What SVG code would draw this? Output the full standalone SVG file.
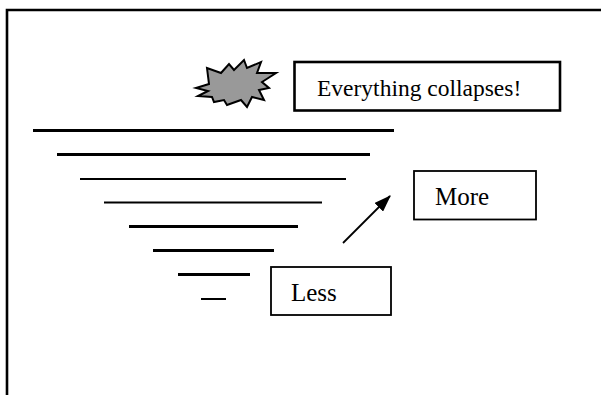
<svg xmlns="http://www.w3.org/2000/svg" width="601" height="395" viewBox="0 0 601 395">
<style>
.box{fill:#fff;stroke:#000;stroke-width:1.8}
.thick{stroke-width:2.6}
.lbl{font-family:"Liberation Serif","Times New Roman",serif;font-size:23.5px;fill:#000}
.big{font-size:25px}
.bar{stroke:#000;stroke-width:3}
.thin{stroke-width:2}
</style>
<defs>
<marker id="ah" viewBox="0 0 14 10" refX="13" refY="5" markerWidth="9.5" markerHeight="6.8" markerUnits="strokeWidth" orient="auto" preserveAspectRatio="none">
<path d="M0,0 L14,5 L0,10 Z" fill="#000"/>
</marker>
</defs>
<rect width="601" height="395" fill="#fff"/>
<g id="frame">
<path d="M7,395 V10 H601" fill="none" stroke="#000" stroke-width="2.6"/>
</g>
<g id="bars">
<line class="bar" x1="33" y1="130.5" x2="394" y2="130.5"/>
<line class="bar" x1="57" y1="154.5" x2="370" y2="154.5"/>
<line class="bar thin" x1="80" y1="179" x2="346" y2="179"/>
<line class="bar thin" x1="104" y1="202.5" x2="322" y2="202.5"/>
<line class="bar" x1="129" y1="226.5" x2="298" y2="226.5"/>
<line class="bar" x1="153" y1="250.5" x2="274" y2="250.5"/>
<line class="bar" x1="178" y1="274.5" x2="250" y2="274.5"/>
<line class="bar thin" x1="201" y1="299" x2="226" y2="299"/>
</g>
<g id="burst">
<polygon points="196,88 209,84 207,68 221,73 229,64 234,70 244,60 247,68 261,62 257,73 276,73 262,82 269,88 259,90 264,100 252,97 247,107 241,100 227,105 224,100 214,102 212,97 198,96 208,91" fill="#999" stroke="#000" stroke-width="2" stroke-linejoin="miter"/>
</g>
<g id="collapse">
<rect class="box thick" x="294.5" y="62" width="265.5" height="48.5"/>
<text class="lbl" x="317" y="96">Everything collapses!</text>
</g>
<g id="more">
<rect class="box" x="414" y="171" width="122" height="48.5"/>
<text class="lbl big" x="435" y="205">More</text>
</g>
<g id="less">
<rect class="box" x="271" y="267" width="120" height="48"/>
<text class="lbl big" x="291" y="301">Less</text>
</g>
<g id="connectors">
<line x1="343" y1="243" x2="390" y2="196" stroke="#000" stroke-width="1.8" marker-end="url(#ah)"/>
</g>
</svg>
